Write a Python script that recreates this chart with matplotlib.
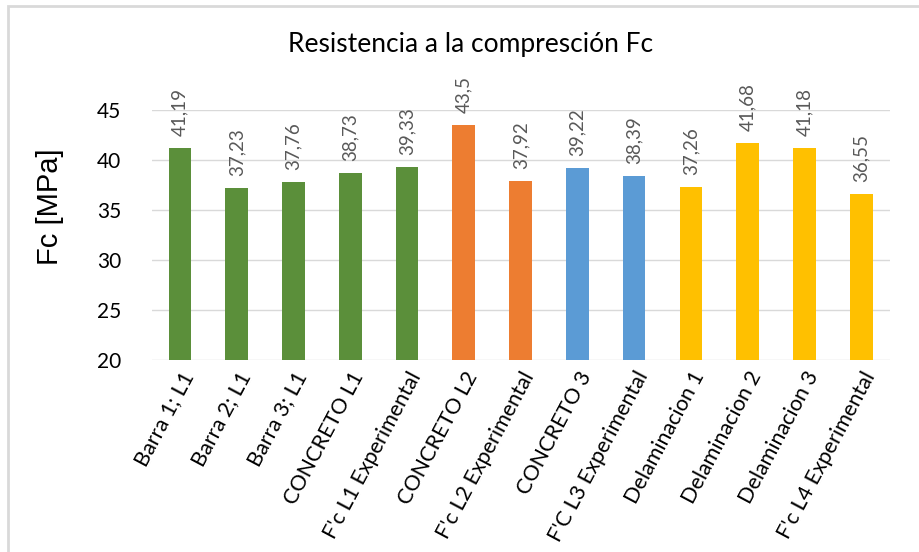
import matplotlib.pyplot as plt
from matplotlib.patches import Rectangle

# Data
categorias = ["Barra 1; L1", "Barra 2; L1", "Barra 3; L1", "CONCRETO L1",
              "F'c L1 Experimental", "CONCRETO L2", "F'c L2 Experimental",
              "CONCRETO 3", "F'C L3 Experimental", "Delaminacion 1",
              "Delaminacion 2", "Delaminacion 3", "F'c L4 Experimental"]
valores = [41.19, 37.23, 37.76, 38.73, 39.33, 43.5, 37.92,
           39.22, 38.39, 37.26, 41.68, 41.18, 36.55]
grupos = ["L1", "L1", "L1", "L1", "L1", "L2", "L2",
          "L3", "L3", "L4", "L4", "L4", "L4"]
colores_grupo = {"L1": "#5b8f3a", "L2": "#ed7d31", "L3": "#5b9bd5", "L4": "#ffc000"}

plt.rcParams['font.family'] = ['Lato', 'DejaVu Sans']

fig = plt.figure(figsize=(9.19, 5.52), dpi=100)
ax = fig.add_axes([0.165, 0.348, 0.803, 0.453])

# light border around the chart area
fig.patches.append(Rectangle((0.009, -0.01), 1.0, 1.0 - 0.001, transform=fig.transFigure,
                             fill=False, edgecolor='#d9d9d9', linewidth=2))

x = range(len(categorias))
ax.bar(x, valores, width=0.4, color=[colores_grupo[g] for g in grupos], zorder=2)

for xi, v in zip(x, valores):
    txt = ('%g' % v).replace('.', ',')
    ax.text(xi, v + 1.2, txt, rotation=90, ha='center', va='bottom',
            fontsize=13.5, color='#595959', clip_on=False)

ax.set_ylim(20, 45)
ax.set_xlim(-0.5, len(categorias) - 0.5)
ax.set_yticks([20, 25, 30, 35, 40, 45])
ax.yaxis.grid(True, color='#d9d9d9', linewidth=1, zorder=0)
ax.set_axisbelow(True)
for s in ax.spines.values():
    s.set_visible(False)
ax.tick_params(axis='both', length=0)
ax.tick_params(axis='y', labelsize=15, pad=22, labelcolor='#000000')
ax.set_xticks(list(x))
ax.set_xticklabels(categorias, rotation=62, ha='right', rotation_mode='anchor',
                   fontsize=15.5)
ax.tick_params(axis='x', pad=6)

fig.text(0.054, 0.625, 'Fc [MPa]', rotation=90, ha='center', va='center',
         fontsize=21, family=['Liberation Sans', 'DejaVu Sans'])
fig.text(0.512, 0.92, 'Resistencia a la compresción Fc', ha='center', va='center',
         fontsize=19, color='#000000')

fig.savefig('out.png', dpi=100)
